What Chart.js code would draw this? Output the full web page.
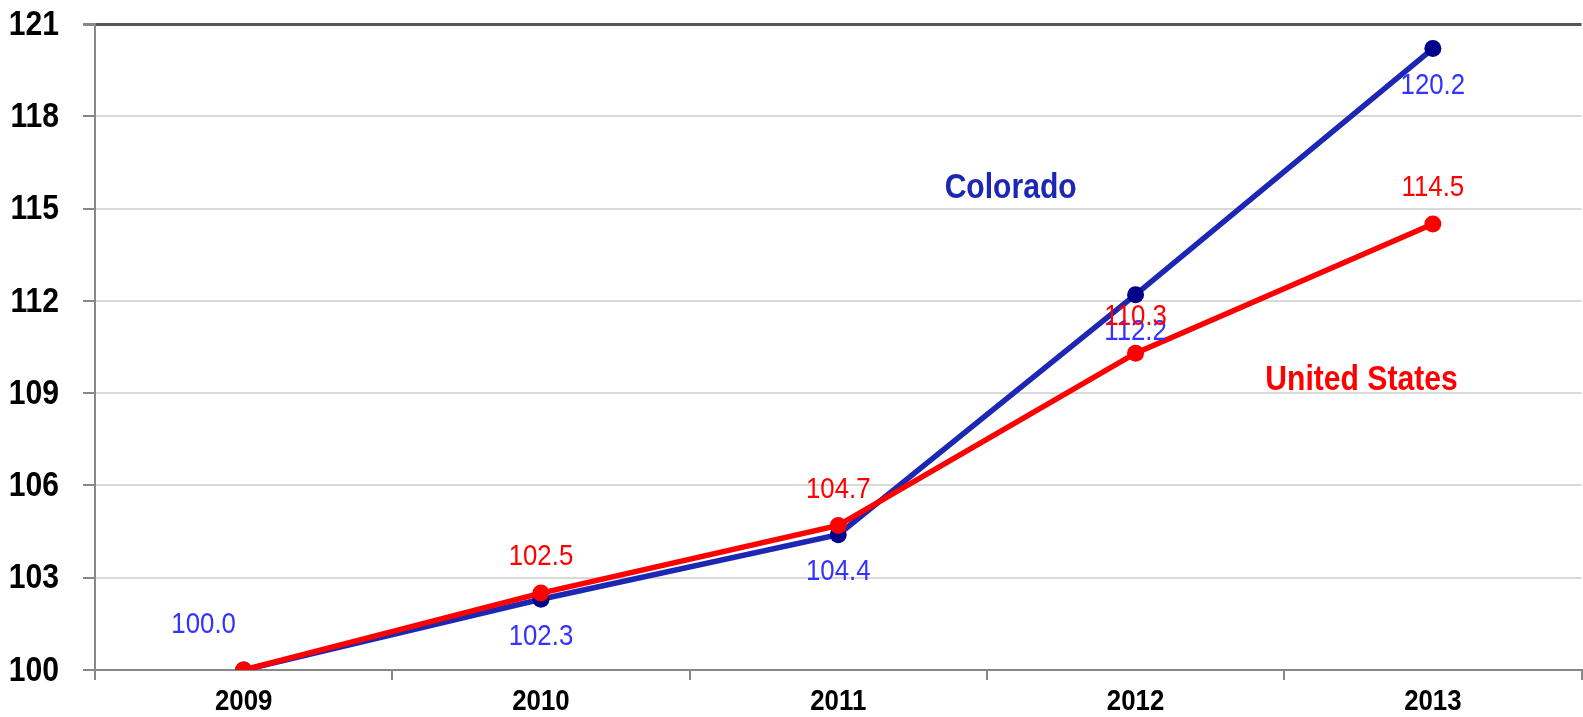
<!DOCTYPE html>
<html>
<head>
<meta charset="utf-8">
<script src="https://cdn.jsdelivr.net/npm/chart.js@4/dist/chart.umd.min.js"></script>
<style>
  html, body { margin: 0; padding: 0; background: #ffffff; overflow: hidden; }
  #wrap { width: 1590px; height: 717px; }
</style>
</head>
<body>
<div id="wrap"><canvas id="chart" width="1590" height="717"></canvas></div>
<script>
// Index of employment, 2009 = 100
const years = ['2009', '2010', '2011', '2012', '2013'];
const colorado = [100.0, 102.3, 104.4, 112.2, 120.2];
const unitedStates = [100.0, 102.5, 104.7, 110.3, 114.5];
const yTicks = [100, 103, 106, 109, 112, 115, 118, 121];

// Where each value label sits relative to its point
const coloradoLabelSide = ['upleft', 'below', 'below', 'below', 'below'];
const usLabelSide = [null, 'above', 'above', 'above', 'above'];

const FONT = '"Liberation Sans", Arial, sans-serif';
const NARROW_X = 0.86; // horizontal squeeze giving a narrow face

function narrowText(ctx, text, x, y, font, color, align) {
  ctx.save();
  ctx.font = font;
  ctx.fillStyle = color;
  ctx.textAlign = align || 'center';
  ctx.textBaseline = 'middle';
  ctx.translate(x, y);
  ctx.scale(NARROW_X, 1);
  ctx.fillText(text, 0, 0);
  ctx.restore();
}

const axisLabels = {
  id: 'axisLabels',
  afterDraw(chart) {
    const ctx = chart.ctx;
    const x = chart.scales.x, y = chart.scales.y;
    y.ticks.forEach(t => {
      narrowText(ctx, String(t.value), 59, y.getPixelForValue(t.value) + 1, 'bold 35px ' + FONT, '#000000', 'right');
    });
    chart.data.labels.forEach((lab, i) => {
      narrowText(ctx, lab, x.getPixelForValue(i), y.bottom + 32, 'bold 30px ' + FONT, '#000000', 'center');
    });
  }
};

const valueLabels = {
  id: 'valueLabels',
  afterDatasetsDraw(chart) {
    const ctx = chart.ctx;
    const offsets = { above: [0, -36], below: [0, 37], upleft: [-40, -45] };
    chart.data.datasets.forEach((ds, di) => {
      const meta = chart.getDatasetMeta(di);
      ds.labelSides.forEach((side, i) => {
        if (!side) return;
        const pt = meta.data[i];
        const [dx, dy] = offsets[side];
        narrowText(ctx, ds.data[i].toFixed(1), pt.x + dx, pt.y + dy, '30px ' + FONT, ds.labelColor);
      });
    });
  }
};

const seriesNames = {
  id: 'seriesNames',
  afterDatasetsDraw(chart) {
    const ctx = chart.ctx;
    const x = chart.scales.x, y = chart.scales.y;
    narrowText(ctx, 'Colorado', x.getPixelForValue(2.58), y.getPixelForValue(115.65), 'bold 35px ' + FONT, '#1c28b4');
    narrowText(ctx, 'United States', x.getPixelForValue(3.76), y.getPixelForValue(109.4), 'bold 35px ' + FONT, '#ff0000');
  }
};

new Chart(document.getElementById('chart'), {
  type: 'line',
  data: {
    labels: years,
    datasets: [
      {
        label: 'Colorado',
        data: colorado,
        order: 1,
        borderColor: '#1c28b4',
        borderWidth: 5.5,
        pointRadius: 8.5,
        pointBackgroundColor: '#00008b',
        pointBorderColor: '#00008b',
        pointBorderWidth: 0,
        tension: 0,
        labelSides: coloradoLabelSide,
        labelColor: '#3333ff'
      },
      {
        label: 'United States',
        data: unitedStates,
        order: 0,
        borderColor: '#ff0000',
        borderWidth: 5.5,
        pointRadius: 8.5,
        pointBackgroundColor: '#ff0000',
        pointBorderColor: '#ff0000',
        pointBorderWidth: 0,
        tension: 0,
        labelSides: usLabelSide,
        labelColor: '#ff0000'
      }
    ]
  },
  options: {
    responsive: false,
    devicePixelRatio: 1,
    animation: false,
    layout: { padding: { top: 24, right: 4, bottom: 37, left: 0 } },
    plugins: { legend: { display: false }, tooltip: { enabled: false } },
    scales: {
      x: {
        offset: true,
        grid: { offset: true, drawOnChartArea: false, color: '#888888', lineWidth: 2, tickLength: 10 },
        border: { color: '#888888', width: 2 },
        ticks: { display: false }
      },
      y: {
        min: 100,
        max: 121,
        afterBuildTicks(scale) { scale.ticks = yTicks.map(v => ({ value: v })); },
        afterFit(scale) { scale.width = 95; },
        grid: {
          color: c => (c.tick && c.tick.value === 121 ? '#555555' : '#d9d9d9'),
          lineWidth: c => (c.tick && c.tick.value === 121 ? 3 : 2),
          tickColor: '#888888',
          tickLength: 12
        },
        border: { color: '#888888', width: 2 },
        ticks: { display: false }
      }
    }
  },
  plugins: [valueLabels, seriesNames, axisLabels]
});
</script>
</body>
</html>
